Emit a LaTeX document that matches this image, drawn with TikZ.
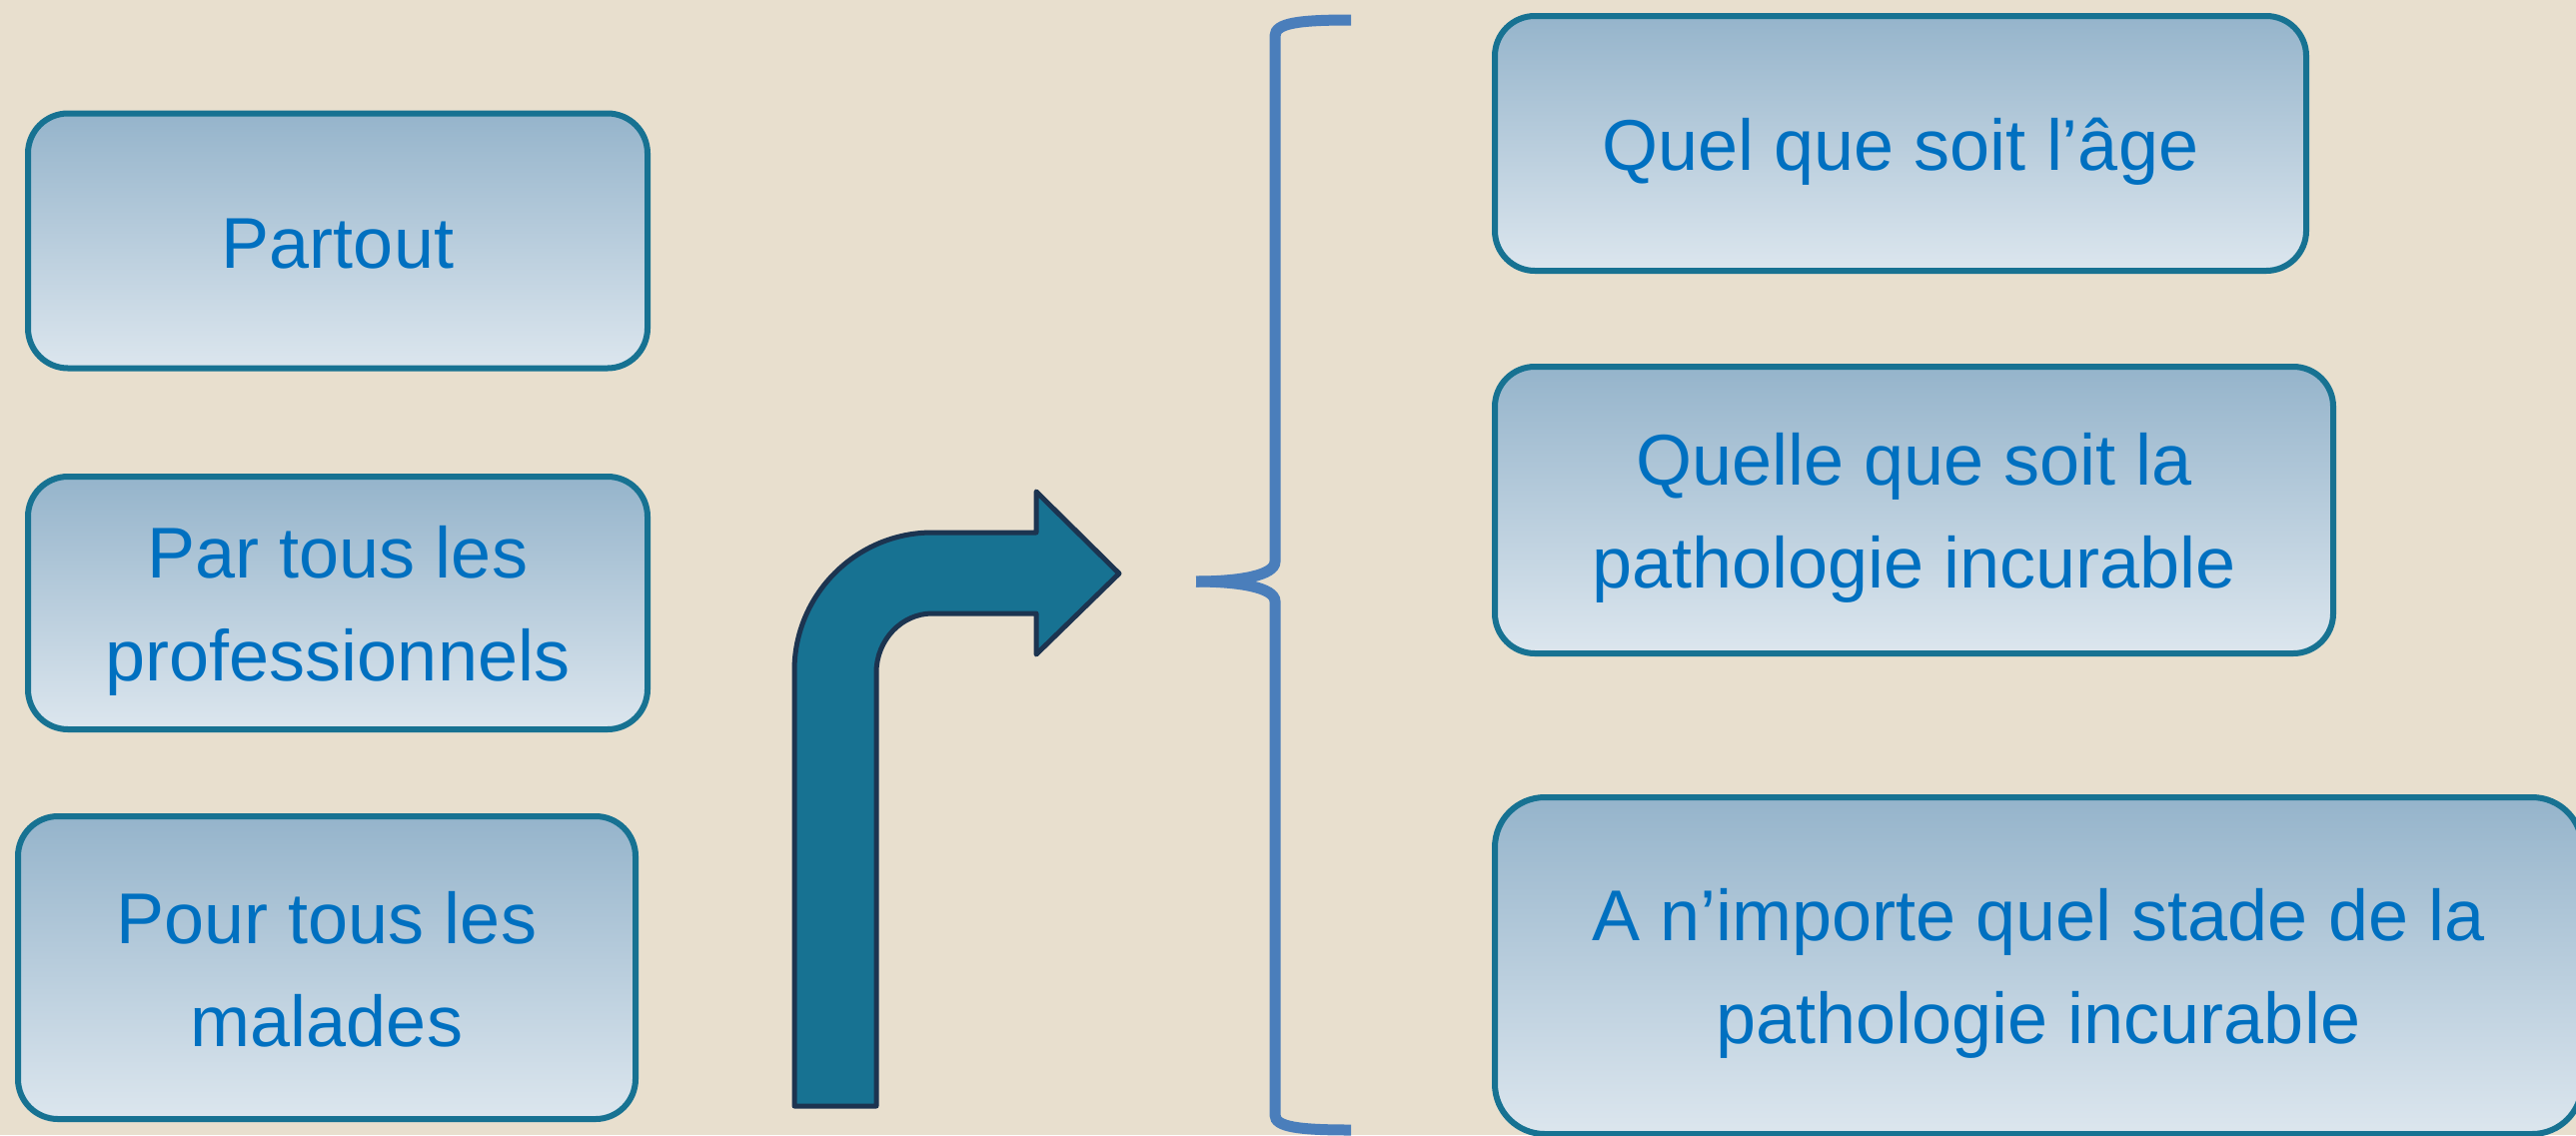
\documentclass[tikz,border=0pt]{standalone}
\usepackage{fontspec}
\setmainfont{Liberation Sans}
\usepackage{tikz}
\usepackage{xcolor}

\definecolor{fond}{RGB}{232,223,206}
\definecolor{bordboite}{RGB}{23,114,146}
\definecolor{hautboite}{RGB}{149,180,203}
\definecolor{basboite}{RGB}{220,230,238}
\definecolor{texteboite}{RGB}{0,112,192}
\definecolor{bordfleche}{RGB}{28,52,80}
\definecolor{accol}{RGB}{74,126,187}

% fixed line box, so that every text sits the same way in its box
\newcommand{\lb}{\rule[-6.5pt]{0pt}{40.5pt}}

\begin{document}
\begin{tikzpicture}[x=0.5pt,y=0.5pt,yscale=-1,xscale=1,
    boite/.style={draw=bordboite, line width=3pt, rounded corners=20pt,
      top color=hautboite, bottom color=basboite, text=texteboite,
      font=\fontsize{36}{51.5}\selectfont, align=center, inner sep=0pt},
    fleche/.style={fill=bordboite, draw=bordfleche, line width=2.5pt, line join=round},
    accolade/.style={draw=accol, line width=5.5pt}]
        %set diagram: width 2578, height 1136
        \useasboundingbox (0,0) rectangle (2578,1136);
        \fill[fond] (0,0) rectangle (2578,1136);
        \clip (0,0) rectangle (2578,1136);

        %Boxes, left column
        \node[boite, minimum width=310pt, minimum height=127.5pt] (partout) at (338,241) {\lb Partout\lb};
        \node[boite, minimum width=310pt, minimum height=126.5pt] (professionnels) at (338,603.5) {\lb Par tous les\\professionnels\lb};
        \node[boite, minimum width=309pt, minimum height=151.5pt] (malades) at (327,968.5) {\lb Pour tous les\\malades\lb};

        %Shape: Bent Arrow
        \draw[fleche] (795,1107) -- (795,671) .. controls (795,595) and (857,533) .. (933,533) -- (1037,533) -- (1037,492) -- (1120,574) -- (1037,655) -- (1037,614) -- (933,614) .. controls (902,614) and (877,641) .. (877,673) -- (877,1107) -- cycle ;

        %Shape: Brace
        \draw[accolade] (1352,20) .. controls (1300,20) and (1276,23) .. (1276,36) -- (1276,562) .. controls (1276,576) and (1240,582) .. (1197,582) ;
        \draw[accolade] (1197,582) .. controls (1240,582) and (1276,588) .. (1276,602) -- (1276,1116) .. controls (1276,1128) and (1300,1131) .. (1352,1131) ;

        %Boxes, right column
        \node[boite, minimum width=406pt, minimum height=127.5pt] (age) at (1902,143.5) {\lb Quel que soit l’âge\lb};
        \node[boite, minimum width=419.5pt, minimum height=143.5pt] (pathologie) at (1915.5,510.5) {\lb Quelle que soit la\\pathologie incurable\lb};
        \node[boite, rounded corners=25pt, minimum width=544pt, minimum height=168.5pt] (stade) at (2040,966.5) {\lb A n’importe quel stade de la\\pathologie incurable\lb};

\end{tikzpicture}
\end{document}
